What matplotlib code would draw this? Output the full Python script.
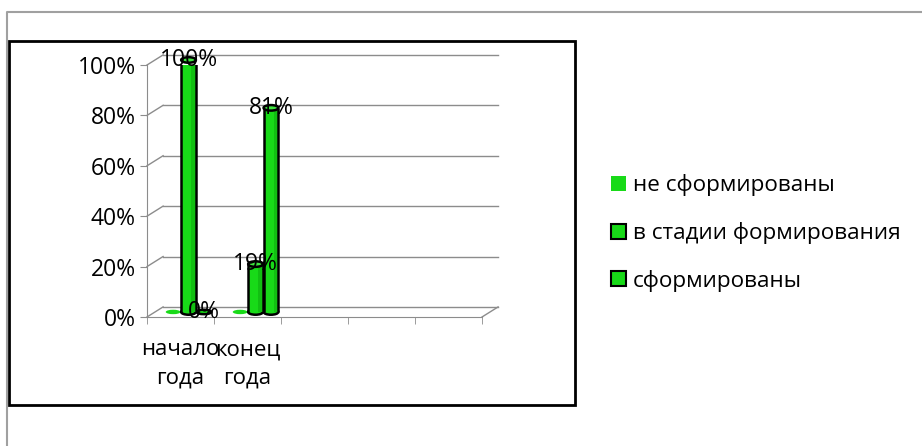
import numpy as np
import matplotlib

matplotlib.use("Agg")
import matplotlib.pyplot as plt
from matplotlib.patches import Ellipse, Rectangle
from matplotlib.lines import Line2D
from matplotlib.ticker import PercentFormatter

plt.rcParams["font.family"] = ["Open Sans", "DejaVu Sans"]

# ── data ────────────────────────────────────────────────────────────────────
categories = ["начало\nгода", "конец\nгода", "", "", ""]
series_names = ["не сформированы", "в стадии формирования", "сформированы"]
not_formed = [0.0, 0.0]
in_progress = [1.00, 0.19]
formed = [0.00, 0.81]
series_values = [not_formed, in_progress, formed]

GREEN = "#18da18"
DARK = "#0fae0f"
GRID = "#8c8c8c"
FS = 16.5

W, H = 922, 446
fig = plt.figure(figsize=(W / 100, H / 100), dpi=100)

# front plane of the pseudo-3d plot
x0, x1, y0, y1 = 147, 482, 317, 65
ax = fig.add_axes([x0 / W, (H - y0) / H, (x1 - x0) / W, (y0 - y1) / H])
ax.set_xlim(0, len(categories))
ax.set_ylim(0, 1)

# depth offsets (category units / fraction units)
dxb, dyb = 0.24, 0.04
dxm, dym = dxb / 2, dyb / 2

# back wall gridlines + floor
n = len(categories)
for yv in np.arange(0, 1.01, 0.2):
    ax.plot([0, dxb], [yv, yv + dyb], color=GRID, lw=1, clip_on=False, zorder=1)
    ax.plot([dxb, n + dxb], [yv + dyb, yv + dyb], color=GRID, lw=1,
            clip_on=False, zorder=1)
ax.plot([n, n + dxb], [0, dyb], color=GRID, lw=1, clip_on=False, zorder=1)

# bars as cylinders
w = 0.22
offsets = [-0.23, 0.0, 0.23]
eh = 0.022
for s, vals in enumerate(series_values):
    for i, v in enumerate(vals):
        xc = i + 0.5 + offsets[s] + dxm
        if v <= 0:
            ec = "none" if s == 0 else "black"
            ax.add_patch(Ellipse((xc, dym), w, eh * 0.8, facecolor=GREEN,
                                 edgecolor=ec, lw=1.8, zorder=3, clip_on=False))
            continue
        ax.add_patch(Ellipse((xc, dym), w, eh, facecolor=GREEN, edgecolor="black",
                             lw=1.8, zorder=3))
        ax.bar(xc, v, width=w, bottom=dym, color=GREEN, lw=0, zorder=4)
        ax.bar(xc + w * 0.3, v, width=w * 0.25, bottom=dym, color=DARK, lw=0,
               zorder=4, alpha=0.6)
        ax.vlines([xc - w / 2, xc + w / 2], dym, v + dym, color="black", lw=1.8,
                  zorder=5)
        ax.add_patch(Ellipse((xc, v + dym), w, eh, facecolor="#3fe43f",
                             edgecolor="black", lw=1.8, zorder=6, clip_on=False))

# value labels
for s in (1, 2):
    for i, v in enumerate(series_values[s]):
        xc = i + 0.5 + offsets[s] + dxm
        ax.text(xc, v + dym, f"{v:.0%}", ha="center", va="center",
                fontsize=FS, zorder=7)

# axes styling
for side in ("top", "right"):
    ax.spines[side].set_visible(False)
for side in ("left", "bottom"):
    ax.spines[side].set_color(GRID)
ax.set_yticks(np.arange(0, 1.01, 0.2))
ax.yaxis.set_major_formatter(PercentFormatter(1.0, decimals=0))
ax.tick_params(axis="y", length=5, color=GRID, labelsize=FS, pad=3)
ax.set_xticks(np.arange(n) + 0.5)
ax.set_xticklabels(categories, linespacing=1.45)
ax.set_xticks(np.arange(n + 1), minor=True)
ax.tick_params(axis="x", which="major", length=0, labelsize=16, pad=16)
ax.tick_params(axis="x", which="minor", length=5, color=GRID)

# legend
handles = [
    Rectangle((0, 0), 1, 1, facecolor=GREEN, edgecolor="none"),
    Rectangle((0, 0), 1, 1, facecolor=GREEN, edgecolor="black", lw=1.5),
    Rectangle((0, 0), 1, 1, facecolor=GREEN, edgecolor="black", lw=1.5),
]
fig.legend(handles, series_names, loc="center left",
           bbox_to_anchor=(600 / W, (H - 233) / H), frameon=False,
           fontsize=16.2, handlelength=0.65, handleheight=0.65, handletextpad=0.3,
           labelspacing=1.15, borderpad=0)

# chart frames
fig.add_artist(Rectangle((9 / W, (H - 405) / H), (575 - 9) / W, (405 - 41) / H,
                         transform=fig.transFigure, fill=False, edgecolor="black",
                         lw=2))
fig.add_artist(Line2D([7 / W, 7 / W, 1], [0, (H - 12) / H, (H - 12) / H],
                      transform=fig.transFigure, color="#a0a0a0", lw=1.5))

fig.savefig("out.png", dpi=100)
